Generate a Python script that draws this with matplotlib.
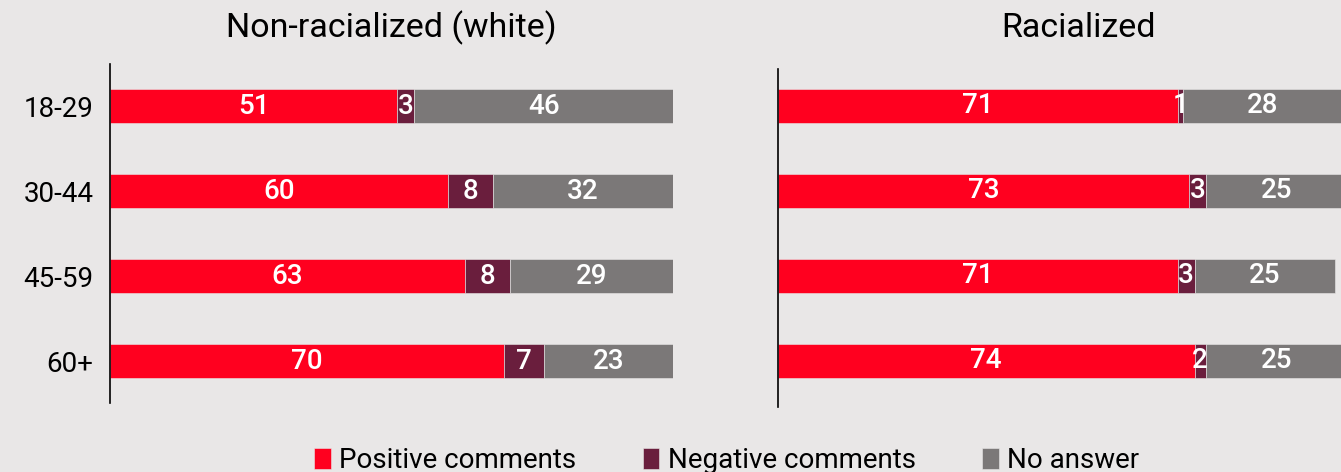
import numpy as np
import matplotlib.pyplot as plt

plt.rcParams['font.family'] = ['Roboto', 'DejaVu Sans']

# Data
ages = ["18-29", "30-44", "45-59", "60+"]
series_names = ["Positive comments", "Negative comments", "No answer"]
white_pos = [51, 60, 63, 70]
white_neg = [3, 8, 8, 7]
white_none = [46, 32, 29, 23]
rac_pos = [71, 73, 71, 74]
rac_neg = [1, 3, 3, 2]
rac_none = [28, 25, 25, 25]

colors = ["#FF001F", "#6A1E3D", "#7B7878"]
bg = "#E9E7E7"

fig = plt.figure(figsize=(13.41, 4.72), dpi=100, facecolor=bg)
ax1 = fig.add_axes([0.082, 0.146, 0.420, 0.718])
ax2 = fig.add_axes([0.580, 0.138, 0.420, 0.716])


def draw_panel(ax, pos, neg, none, show_labels, ylim):
    ax.set_facecolor(bg)
    y = np.arange(len(ages))
    left = np.zeros(len(ages))
    for vals, col, name in zip([pos, neg, none], colors, series_names):
        vals = np.array(vals)
        ax.barh(y, vals, left=left, height=0.4, color=col, label=name,
                edgecolor=bg, linewidth=0.4)
        for yi, l, v in zip(y, left, vals):
            ax.text(l + v / 2, yi, str(v), ha="center", va="center",
                    color="white", fontsize=20, fontweight="medium")
        left = left + vals
    ax.set_xlim(0, 100)
    ax.set_ylim(*ylim)
    ax.set_yticks(y)
    if show_labels:
        ax.set_yticklabels(ages, fontsize=20)
    else:
        ax.set_yticklabels([])
    ax.tick_params(axis="y", length=0, pad=12)
    ax.set_xticks([])
    for s in ["top", "right", "bottom"]:
        ax.spines[s].set_visible(False)
    ax.spines["left"].set_linewidth(1.2)


draw_panel(ax1, white_pos, white_neg, white_none, True, (3.494, -0.494))
draw_panel(ax2, rac_pos, rac_neg, rac_none, False, (3.54, -0.435))

fig.text(0.292, 0.941, "Non-racialized (white)", ha="center", va="center", fontsize=24.5)
fig.text(0.804, 0.941, "Racialized", ha="center", va="center", fontsize=24.5)

handles, labels = ax1.get_legend_handles_labels()
fig.legend(handles, labels, loc="lower center", bbox_to_anchor=(0.542, -0.058),
           ncol=3, frameon=False, fontsize=20, handlelength=0.6,
           handleheight=0.8, handletextpad=0.3, columnspacing=2.4)

fig.savefig("out.png", dpi=100, facecolor=bg)
